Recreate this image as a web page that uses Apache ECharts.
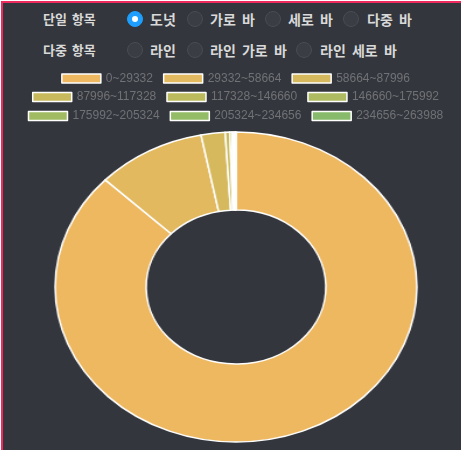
<!DOCTYPE html>
<html>
<head>
<meta charset="utf-8">
<script src="https://cdn.jsdelivr.net/npm/echarts@6/dist/echarts.min.js"></script>
<style>
    html, body { margin: 0; padding: 0; background: #fff; overflow: hidden; }
    body { width: 461px; height: 450px; position: relative; }
    .frame {
        position: absolute; left: 1px; top: 1px; width: 480px; height: 470px;
        border: 2px solid #ee2a5f; background: #33363c;
    }
    .txt {
        position: absolute; color: #d9d9d9; font: bold 14px 'Noto Sans CJK KR', sans-serif;
        line-height: 16px; white-space: nowrap; word-spacing: 3px;
    }
    .txt.label { font-size: 13px; word-spacing: 2px; }
    .radio {
        position: absolute; width: 16px; height: 16px; border-radius: 50%;
        background: #3a3d43; border: 1px solid #494c52; box-sizing: border-box;
    }
    .radio.on { background: #1e9fff; border-color: #1e9fff; }
    .radio.on::after {
        content: ''; position: absolute; left: 4px; top: 4px; width: 6px; height: 6px;
        border-radius: 50%; background: #fff;
    }
    #legend { position: absolute; left: 0; top: 0; width: 471px; height: 130px; }
    #pie {
        position: absolute; left: 70.5px; top: 121.5px; width: 330px; height: 330px;
        transform: scaleX(1.167); transform-origin: 50% 50%;
    }
</style>
</head>
<body>
<div class="frame"></div>
<div id="controls"></div>
<div id="legend"></div>
<div id="pie"></div>
<script>
// ==================== 데이터 ====================

// 구간 라벨 (폭 29332)
const binLabels = [
    '0~29332', '29332~58664', '58664~87996',
    '87996~117328', '117328~146660', '146660~175992',
    '175992~205324', '205324~234656', '234656~263988'
];

// 구간별 건수
const binCounts = [1742, 195, 43, 8, 4, 3, 2, 1, 1];

// 색상 (주황 → 초록)
const binColors = [
    '#eeb860', '#e2b95e', '#d5b95c', '#c8ba5c', '#bbbb5e',
    '#aebb60', '#a1bb63', '#94bb66', '#87ba6a'
];

// 상단 라디오 항목
const singleOptions = ['도넛', '가로 바', '세로 바', '다중 바'];
const multiOptions = ['라인', '라인 가로 바', '라인 세로 바'];

// ==================== 라디오 UI ====================

function addText(parent, text, x, y, cls) {
    const el = document.createElement('div');
    el.className = cls ? 'txt ' + cls : 'txt';
    el.textContent = text;
    el.style.left = x + 'px';
    el.style.top = (y - 8) + 'px';
    parent.appendChild(el);
}

function addRadio(parent, cx, cy, on) {
    const el = document.createElement('div');
    el.className = on ? 'radio on' : 'radio';
    el.style.left = (cx - 8) + 'px';
    el.style.top = (cy - 8) + 'px';
    parent.appendChild(el);
}

const controls = document.getElementById('controls');
const row1 = { y: 19, radios: [134.5, 194.5, 272.5, 350.5], texts: [150, 210, 288, 367] };
const row2 = { y: 50, radios: [134.5, 194.5, 303.5], texts: [150, 210, 320] };

addText(controls, '단일 항목', 43, row1.y, 'label');
singleOptions.forEach((name, i) => {
    addRadio(controls, row1.radios[i], row1.y, i === 0);
    addText(controls, name, row1.texts[i], row1.y);
});
addText(controls, '다중 항목', 43, row2.y, 'label');
multiOptions.forEach((name, i) => {
    addRadio(controls, row2.radios[i], row2.y, false);
    addText(controls, name, row2.texts[i], row2.y);
});

// ==================== 차트 ====================

const pieData = binLabels.map((name, i) => ({ name, value: binCounts[i] }));

// 범례 (행마다 가운데 정렬)
const legendTops = [72.5, 91, 110];
const legendChart = echarts.init(document.getElementById('legend'));
legendChart.setOption({
    color: binColors,
    legend: legendTops.map((top, r) => ({
        left: 'center',
        top,
        padding: 0,
        itemGap: 10,
        itemWidth: 39,
        itemHeight: 9,
        icon: 'rect',
        selectedMode: false,
        itemStyle: { borderColor: '#fff', borderWidth: 1.5 },
        textStyle: { color: '#707276', fontSize: 12, fontFamily: 'Liberation Sans, Arial, sans-serif' },
        data: binLabels.slice(r * 3, r * 3 + 3)
    })),
    series: [{
        type: 'pie',
        silent: true,
        radius: [0, 1],
        center: [-50, -50],
        label: { show: false },
        itemStyle: { borderColor: '#fff', borderWidth: 1.5 },
        data: pieData
    }]
});

// 도넛 (가로로 늘린 컨테이너)
const pieChart = echarts.init(document.getElementById('pie'));
pieChart.setOption({
    color: binColors,
    series: [{
        type: 'pie',
        radius: [77, 155],
        center: ['50%', '50%'],
        startAngle: 90,
        animation: false,
        label: { show: false },
        labelLine: { show: false },
        itemStyle: { borderColor: '#fff', borderWidth: 1.5 },
        data: pieData
    }]
});
</script>
</body>
</html>
